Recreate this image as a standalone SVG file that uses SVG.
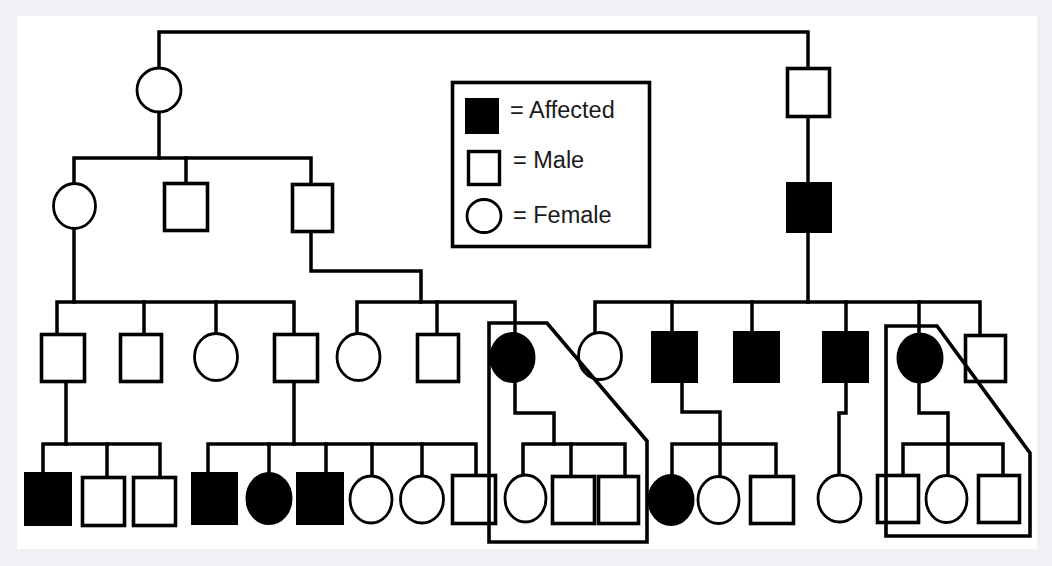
<svg xmlns="http://www.w3.org/2000/svg" width="1052" height="566" viewBox="0 0 1052 566">
<style>
.ln{fill:none;stroke:#000;stroke-width:3.5;stroke-linejoin:miter;stroke-linecap:square}
.m{fill:#fff;stroke:#000;stroke-width:3.6}
.f{fill:#fff;stroke:#000;stroke-width:2.8}
.a{fill:#000;stroke:#000;stroke-width:3}
.enc{fill:none;stroke:#000;stroke-width:3.6;stroke-linejoin:miter}
.lt{font-family:"Liberation Sans",Arial,sans-serif;font-size:23.5px;fill:#1a1a1a}
</style>
<rect x="0" y="0" width="1052" height="566" fill="#eff1f5"/>
<rect x="17" y="16" width="1020" height="533" fill="#fff"/>

<g id="connectors">
<path class="ln" d="M159,68 V32 H808 V68"/>
<path class="ln" d="M159,112 V158"/>
<path class="ln" d="M74,183 V158 H311 V185"/>
<path class="ln" d="M186,158 V183"/>
<path class="ln" d="M808,117 V183"/>
<path class="ln" d="M311,232 V271 H421 V302"/>
<path class="ln" d="M74,229 V302"/>
<path class="ln" d="M57,334 V302 H294 V334"/>
<path class="ln" d="M144,302 V334"/>
<path class="ln" d="M216,302 V334"/>
<path class="ln" d="M357,334 V302 H515 V334"/>
<path class="ln" d="M437,302 V334"/>
<path class="ln" d="M808,232 V302"/>
<path class="ln" d="M595,334 V302 H980 V335"/>
<path class="ln" d="M672,302 V332"/>
<path class="ln" d="M752,302 V332"/>
<path class="ln" d="M846,302 V332"/>
<path class="ln" d="M919,302 V334"/>
<path class="ln" d="M66,383 V444"/>
<path class="ln" d="M43,473 V444 H160 V477"/>
<path class="ln" d="M107,444 V477"/>
<path class="ln" d="M294,382 V444"/>
<path class="ln" d="M208,473 V444 H476 V475"/>
<path class="ln" d="M269,444 V474"/>
<path class="ln" d="M326,444 V473"/>
<path class="ln" d="M372,444 V476"/>
<path class="ln" d="M422,444 V476"/>
<path class="ln" d="M515,381 V413 H554 V444"/>
<path class="ln" d="M523,476 V444 H625 V477"/>
<path class="ln" d="M571,444 V477"/>
<path class="ln" d="M682,382 V412 H720 V477"/>
<path class="ln" d="M672,476 V444 H776 V477"/>
<path class="ln" d="M846,382 V413 H839 V476"/>
<path class="ln" d="M919,381 V413 H948 V476"/>
<path class="ln" d="M903,476 V444 H1003 V476"/>
</g>

<g id="I1"><ellipse class="f" cx="159" cy="90" rx="22" ry="22"/></g>
<g id="I2"><rect class="m" x="787.5" y="68.5" width="42" height="48"/></g>

<g id="II1"><ellipse class="f" cx="74.5" cy="206" rx="21" ry="22.5"/></g>
<g id="II2"><rect class="m" x="164.5" y="183.5" width="43" height="47"/></g>
<g id="II3"><rect class="m" x="292.5" y="184.5" width="40" height="47"/></g>
<g id="II4"><rect class="a" x="787.5" y="183.5" width="43" height="48"/></g>

<g id="III1"><rect class="m" x="41.5" y="334.5" width="43" height="47"/></g>
<g id="III2"><rect class="m" x="120.5" y="334.5" width="41" height="47"/></g>
<g id="III3"><ellipse class="f" cx="216" cy="357" rx="21.5" ry="23.5"/></g>
<g id="III4"><rect class="m" x="274.5" y="334.5" width="43" height="47"/></g>
<g id="III5"><ellipse class="f" cx="358.5" cy="357" rx="21.5" ry="23.5"/></g>
<g id="III6"><rect class="m" x="417.5" y="334.5" width="41" height="47"/></g>
<g id="III7"><ellipse class="a" cx="512.5" cy="357.5" rx="21.5" ry="24"/></g>
<g id="III8"><ellipse class="f" cx="600" cy="356" rx="21.5" ry="23.5"/></g>
<g id="III9"><rect class="a" x="652.5" y="332.5" width="44" height="49"/></g>
<g id="III10"><rect class="a" x="734.5" y="332.5" width="44" height="49"/></g>
<g id="III11"><rect class="a" x="823.5" y="332.5" width="44" height="49"/></g>
<g id="III12"><ellipse class="a" cx="920" cy="358" rx="22" ry="24"/></g>
<g id="III13"><rect class="m" x="965.5" y="335.5" width="40" height="46"/></g>

<g id="IV1"><rect class="a" x="25.5" y="473.5" width="45" height="51"/></g>
<g id="IV2"><rect class="m" x="82.5" y="477.5" width="42" height="48"/></g>
<g id="IV3"><rect class="m" x="133.5" y="477.5" width="42" height="48"/></g>
<g id="IV4"><rect class="a" x="192.5" y="473.5" width="44" height="50"/></g>
<g id="IV5"><ellipse class="a" cx="269" cy="498.5" rx="22" ry="25"/></g>
<g id="IV6"><rect class="a" x="297.5" y="473.5" width="45" height="50"/></g>
<g id="IV7"><ellipse class="f" cx="371" cy="499.5" rx="21" ry="23.5"/></g>
<g id="IV8"><ellipse class="f" cx="422" cy="499.5" rx="21.5" ry="23.5"/></g>
<g id="IV9"><rect class="m" x="452.5" y="475.5" width="43" height="48"/></g>
<g id="IV10"><ellipse class="f" cx="525.5" cy="498.5" rx="20.5" ry="23.5"/></g>
<g id="IV11"><rect class="m" x="552.5" y="476.5" width="42" height="47"/></g>
<g id="IV12"><rect class="m" x="598.5" y="476.5" width="40" height="47"/></g>
<g id="IV13"><ellipse class="a" cx="671" cy="500" rx="22" ry="24.5"/></g>
<g id="IV14"><ellipse class="f" cx="718.5" cy="500" rx="20.5" ry="23.5"/></g>
<g id="IV15"><rect class="m" x="750.5" y="476.5" width="43" height="47"/></g>
<g id="IV16"><ellipse class="f" cx="839.5" cy="498.5" rx="21.5" ry="23.5"/></g>
<g id="IV17"><rect class="m" x="877.5" y="475.5" width="41" height="47"/></g>
<g id="IV18"><ellipse class="f" cx="946.5" cy="499" rx="20.5" ry="23.5"/></g>
<g id="IV19"><rect class="m" x="978.5" y="475.5" width="41" height="47"/></g>

<g id="enclosure1"><path class="enc" d="M489,323 H547 L647,441 V542 H489 Z"/></g>
<g id="enclosure2"><path class="enc" d="M886,326 H937 L1030,453 V536 H886 Z"/></g>

<g id="legend">
<rect x="452.5" y="82.5" width="197" height="164" fill="#fff" stroke="#000" stroke-width="3.6"/>
<rect x="465" y="98" width="34" height="36" fill="#000"/>
<text class="lt" x="510" y="118">= Affected</text>
<rect x="468.5" y="151.5" width="31" height="33" fill="#fff" stroke="#000" stroke-width="3.4"/>
<text class="lt" x="513" y="168">= Male</text>
<ellipse cx="484" cy="216" rx="17" ry="16.5" fill="#fff" stroke="#000" stroke-width="2.8"/>
<text class="lt" x="513" y="223">= Female</text>
</g>
</svg>
